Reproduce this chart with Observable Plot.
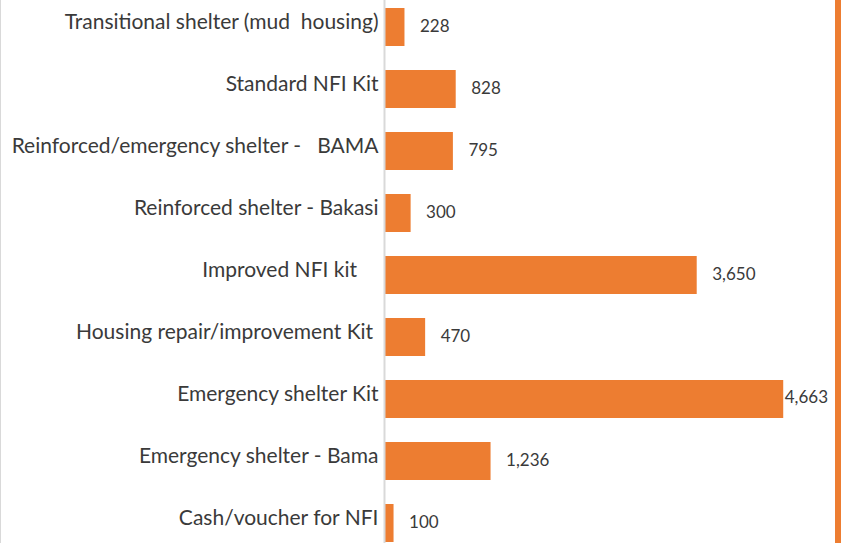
<!DOCTYPE html>
<html>
<head>
<meta charset="utf-8">
<script src="https://cdn.jsdelivr.net/npm/d3@7"></script>
<script src="https://cdn.jsdelivr.net/npm/@observablehq/plot@0.6"></script>
<style>
  html, body { margin: 0; padding: 0; background: #fff; }
  #wrap { position: relative; width: 854px; height: 543px; overflow: hidden; }
  #leftline { position: absolute; left: 0; top: 0; width: 1px; height: 543px; background: #d9d9d9; }
  #rightline { position: absolute; left: 835px; top: 0; width: 6px; height: 543px; background: #ED7D31; }
  svg text { white-space: pre; }
</style>
</head>
<body>
<div id="wrap"><div id="chart"></div><div id="leftline"></div><div id="rightline"></div></div>
<script>
const categories = [
  "Transitional shelter (mud  housing)",
  "Standard NFI Kit",
  "Reinforced/emergency shelter -   BAMA",
  "Reinforced shelter - Bakasi",
  "Improved NFI kit    ",
  "Housing repair/improvement Kit ",
  "Emergency shelter Kit",
  "Emergency shelter - Bama",
  "Cash/voucher for NFI"
];
const values = [228, 828, 795, 300, 3650, 470, 4663, 1236, 100];

const data = categories.map((c, i) => ({category: c, value: values[i]}));
const maxV = d3.max(values);
const fmt = d3.format(",");

const chart = Plot.plot({
  width: 854,
  height: 543,
  marginLeft: 385,
  marginRight: 42,
  marginTop: 0,
  marginBottom: 0,
  style: {fontFamily: "Lato, 'Open Sans', sans-serif", background: "transparent", overflow: "visible"},
  x: {domain: [0, 5000], axis: null},
  y: {domain: categories, range: [-6.5, 556.5], paddingInner: 0.39, paddingOuter: 0.195, axis: null},
  marks: [
    Plot.barX(data, {x: "value", y: "category", fill: "#ED7D31"}),
    Plot.ruleX([0], {stroke: "#d9d9d9", strokeWidth: 2, dx: -1}),
    Plot.text(data, {
      x: 0, y: "category", text: "category", textAnchor: "end", dx: -7, dy: -5,
      fontSize: 21, fill: "#3a3a3a"
    }),
    Plot.text(data.filter(d => d.value !== maxV), {
      x: "value", y: "category", text: d => fmt(d.value), textAnchor: "start", dx: 15, dy: -1,
      fontSize: 17, fill: "#3a3a3a"
    }),
    Plot.text(data.filter(d => d.value === maxV), {
      x: "value", y: "category", text: d => fmt(d.value), textAnchor: "start", dx: 1, dy: -2,
      fontSize: 17, fill: "#3a3a3a"
    })
  ]
});
document.getElementById("chart").appendChild(chart);
</script>
</body>
</html>
